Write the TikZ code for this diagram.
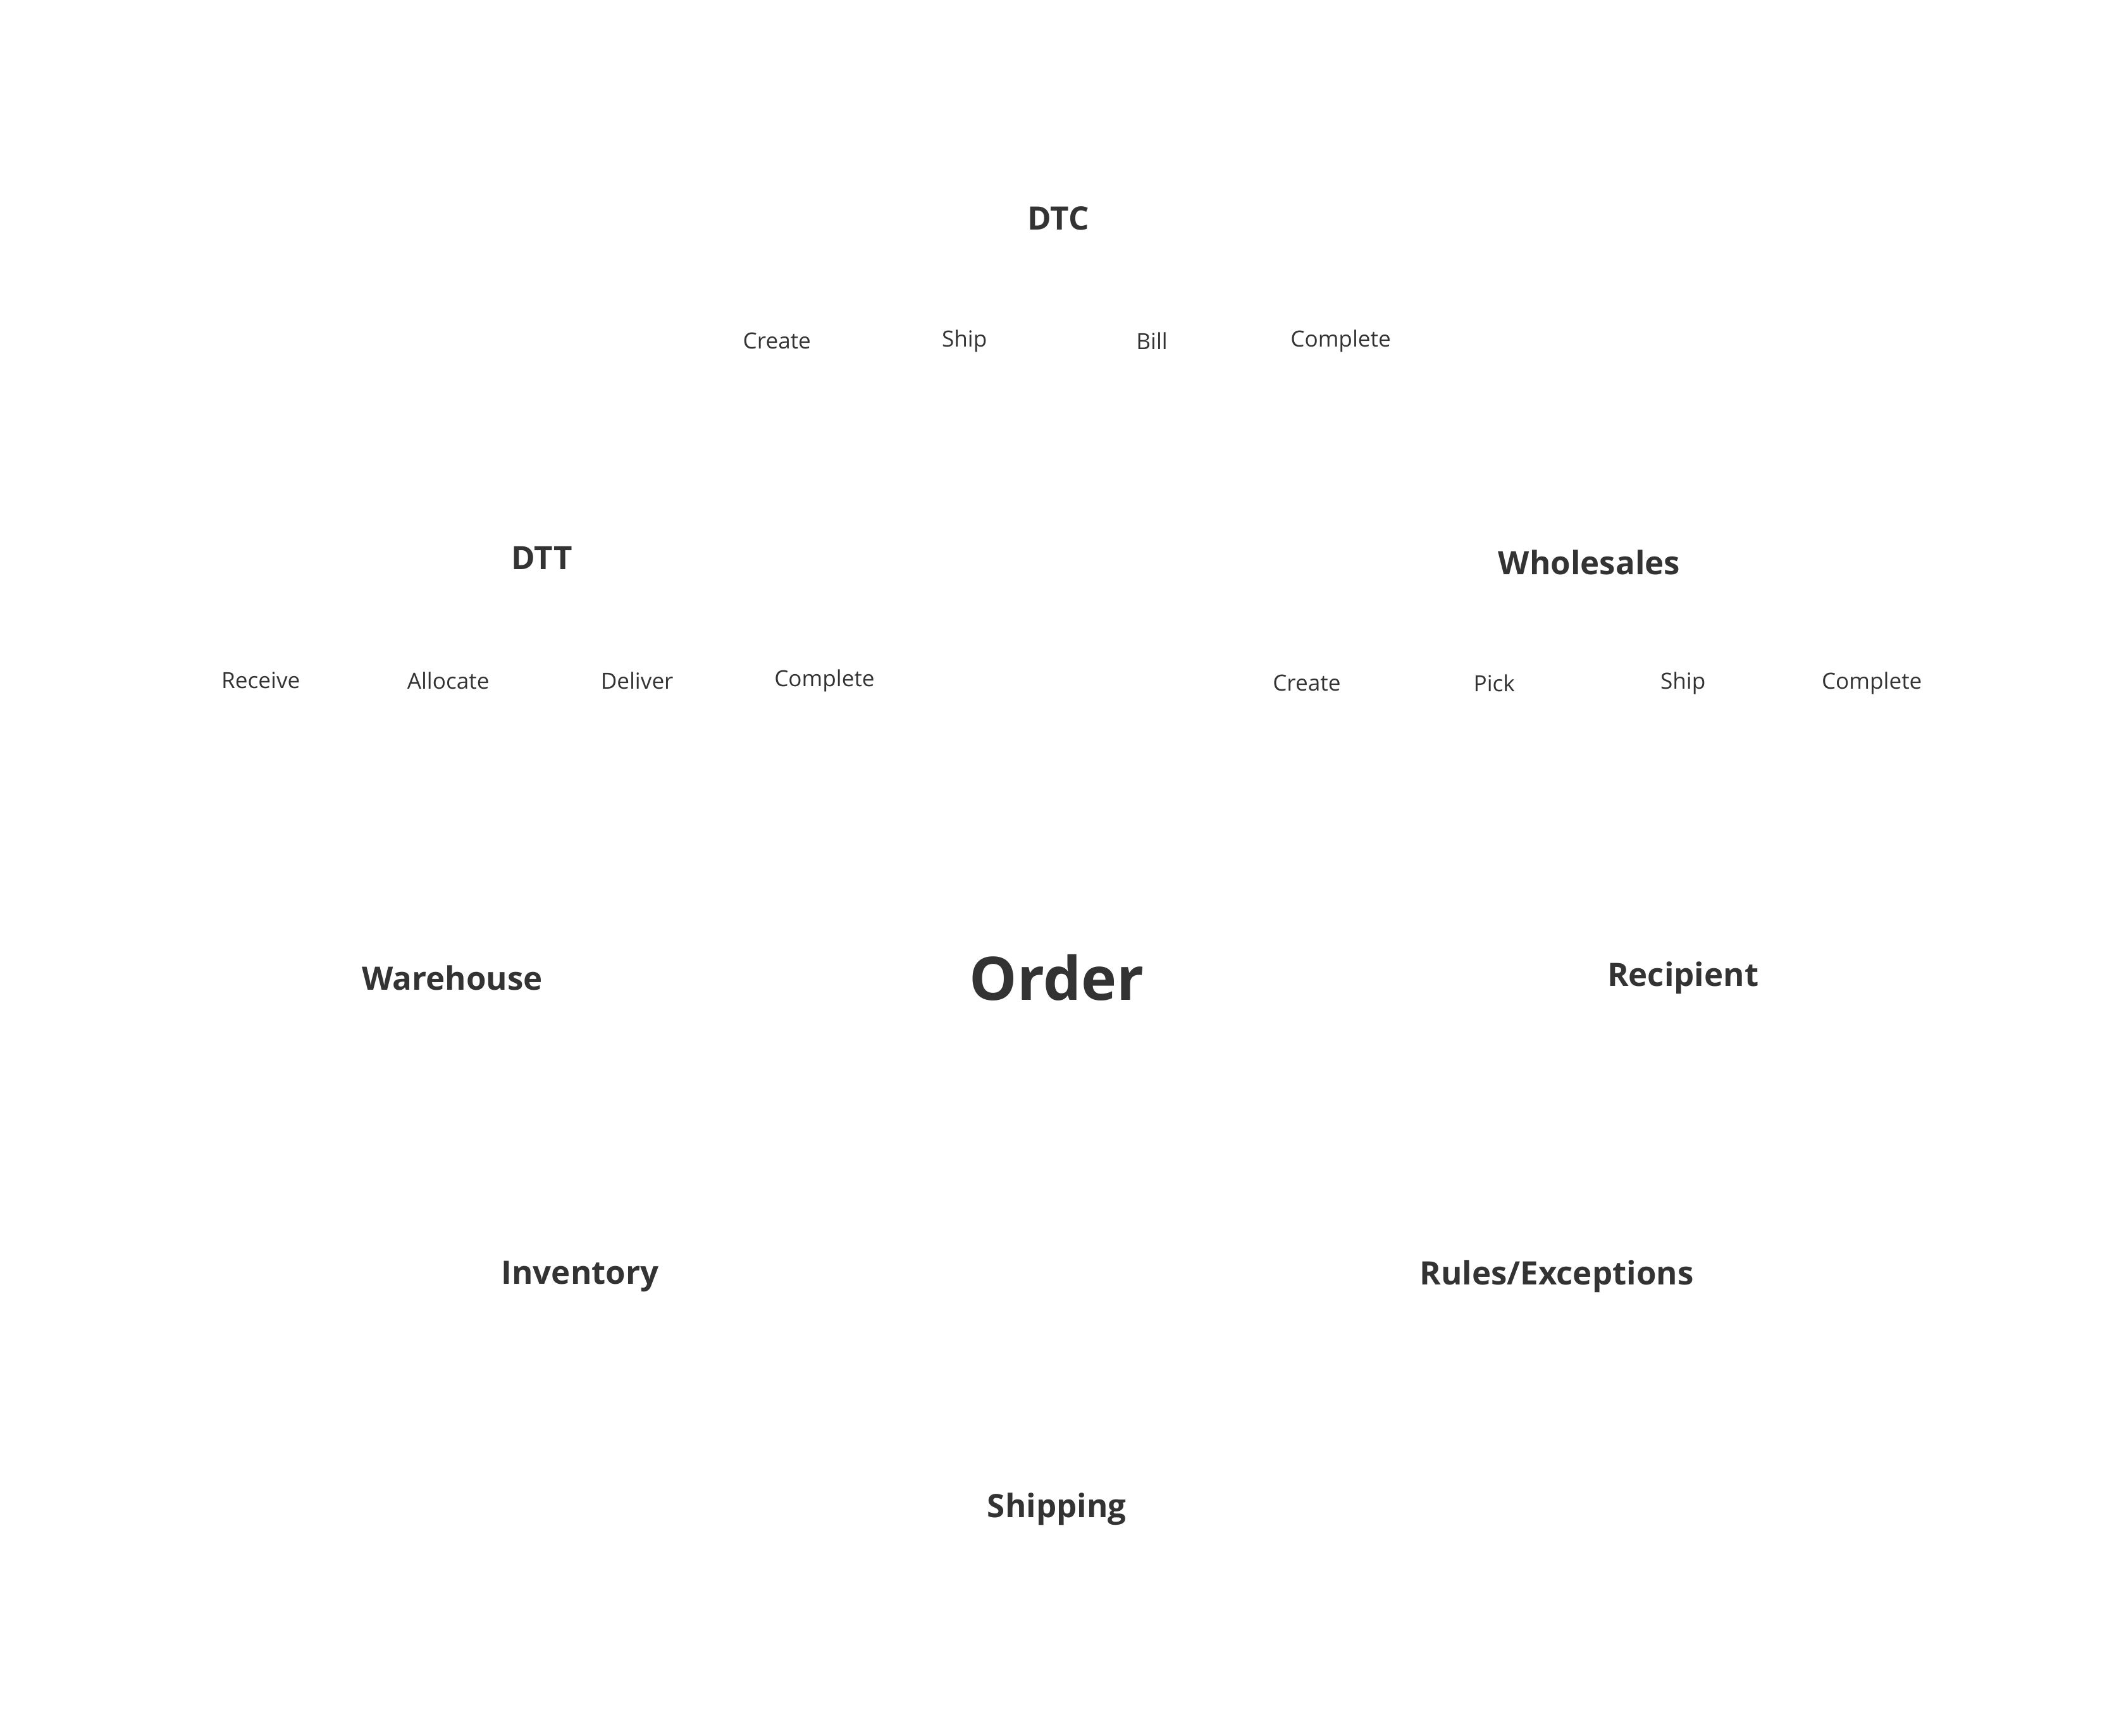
\documentclass[tikz,border=0pt]{standalone}
\usepackage{fontspec}
\setmainfont{Open Sans}
\definecolor{ink}{HTML}{333333}
\begin{document}
\begin{tikzpicture}[x=0.021474cm,y=-0.021474cm,
    every node/.style={text=ink,inner sep=0pt},
    head/.style={font=\fontsize{14.5}{16}\selectfont\bfseries},
    stage/.style={font=\fontsize{10}{12}\selectfont},
    core/.style={font=\fontsize{27}{30}\selectfont\bfseries}]
    \useasboundingbox (0,0) rectangle (1560,1278);

    \node [core] (order) at (778,720) {Order};

    % DTC
    \node [head] (dtc) at (779,161) {DTC};
    \node [stage] (dtcCreate) at (572,251) {Create};
    \node [stage] (dtcShip) at (710,251) {Ship};
    \node [stage] (dtcBill) at (848,251) {Bill};
    \node [stage] (dtcComplete) at (987,251) {Complete};

    % DTT
    \node [head] (dtt) at (399,411) {DTT};
    \node [stage] (dttReceive) at (192,501) {Receive};
    \node [stage] (dttAllocate) at (330,501) {Allocate};
    \node [stage] (dttDeliver) at (469,501) {Deliver};
    \node [stage] (dttComplete) at (607,501) {Complete};

    % Wholesales
    \node [head] (whs) at (1170,414) {Wholesales};
    \node [stage] (whsCreate) at (962,503) {Create};
    \node [stage] (whsPick) at (1100,503) {Pick};
    \node [stage] (whsShip) at (1239,503) {Ship};
    \node [stage] (whsComplete) at (1378,503) {Complete};

    \node [head] (warehouse) at (333,720) {Warehouse};
    \node [head] (recipient) at (1239,720) {Recipient};
    \node [head] (inventory) at (427,940) {Inventory};
    \node [head] (rules) at (1146,940) {Rules/Exceptions};
    \node [head] (shipping) at (778,1111) {Shipping};
\end{tikzpicture}
\end{document}
